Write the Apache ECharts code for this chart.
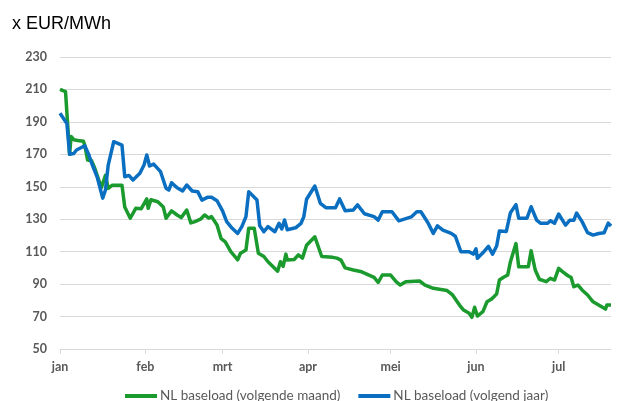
<!DOCTYPE html>
<html>
<head>
<meta charset="utf-8">
<script src="https://cdn.jsdelivr.net/npm/echarts@6/dist/echarts.min.js"></script>
<style>
html,body{margin:0;padding:0;background:#fff;}
#chart{width:617px;height:401px;}
</style>
</head>
<body>
<div id="chart"></div>
<script>
var unitTitle = 'x EUR/MWh';
var monthNames = ['jan', 'feb', 'mrt', 'apr', 'mei', 'jun', 'jul'];
var monthStartDays = [0, 31, 59, 90, 120, 151, 181];
var yTicks = [50, 70, 90, 110, 130, 150, 170, 190, 210, 230];
var seriesNames = ['NL baseload (volgende maand)', 'NL baseload (volgend jaar)'];

var maandDays = [0, 2, 3.5, 4, 5, 6.5, 8.5, 9, 10, 11.5, 12.5, 15, 16.5, 17.5, 19, 22.5, 23.5, 25.5, 27.5, 29.5,
  31.5, 32, 33, 35.5, 37.5, 38.5, 40.5, 42.5, 44, 46, 47.5, 49, 51, 52.5, 54, 55, 57, 58.5, 60, 62,
  64.5, 65.5, 67.5, 68.5, 70.5, 72, 74, 75.5, 79, 80, 81, 82, 82.5, 85, 86.5, 88, 89.5, 92.5, 95, 99,
  100.5, 102, 103.5, 106.5, 109.5, 114, 115.5, 117, 120, 122, 123.5, 125.5, 130.5, 132.5, 135.5, 140.5, 142.5, 145, 146.5, 148.5,
  149.5, 150.5, 151.5, 153.5, 155, 156.5, 157.5, 158.5, 159.5, 161, 162.5, 163.5, 165.5, 166.5, 170, 171, 172.5, 174, 176.5, 178,
  179.5, 181, 182.5, 184.5, 185.5, 186.5, 188, 189.5, 191.5, 193.5, 195.5, 198, 198.5, 200];
var maandValues = [210, 208.6, 170, 181, 179, 178.5, 178, 175.5, 166.5, 166, 162, 149.5, 157, 149, 151, 151, 137.5, 130.6, 136.7, 136.5,
  142.5, 136.7, 142, 140.8, 137.5, 130.6, 135.2, 132.6, 131, 135.7, 127.7, 128.5, 130, 132.6, 130.7, 131.6, 126.4, 118, 116, 110,
  105, 109, 111, 124.4, 124.4, 109, 107, 103.8, 98, 103.8, 101, 108.5, 104.8, 105.2, 108, 106, 114, 119.2, 107, 106.5,
  106, 104.8, 100, 98.7, 97.6, 94.2, 91, 95.6, 95.6, 91.5, 89.4, 91.5, 91.9, 89.4, 87.4, 86, 83.3, 77.1, 74, 72,
  69.5, 75.7, 70.3, 73, 79.1, 80.6, 82.2, 84, 92.5, 94.2, 95.6, 103.8, 115, 100.7, 100.7, 110.6, 98.7, 93, 91.5, 93.6,
  92.5, 99.7, 97.6, 95, 94.2, 88.4, 89.4, 86.4, 83.3, 79.1, 77.1, 74.6, 77.1, 77.1];

var jaarDays = [0, 2.5, 3.5, 5, 6, 9, 10.5, 11.5, 13.5, 15.5, 16.5, 17.5, 19.5, 22.5, 23.5, 25, 26.5, 29, 30.5, 31.5,
  32.5, 34, 36.5, 38.5, 39.5, 40.5, 42.5, 44.5, 46, 48, 50, 51.5, 53.5, 55, 57, 59, 60.5, 62.5, 64.5, 66,
  67.5, 68.5, 71.5, 72.5, 74, 75.5, 78, 79.5, 80.5, 81.5, 82.5, 85.5, 87.5, 88.5, 89.5, 92.5, 94.5, 96.5, 100, 101.5,
  103.5, 106.5, 108, 110.5, 114, 115.5, 117, 120.5, 123, 127.5, 129.5, 131, 133.5, 135.5, 137, 139, 142, 143.5, 145.5, 148.5,
  150, 151, 151.5, 153.5, 155.5, 157, 158.5, 159.5, 162, 163.5, 165.5, 166.5, 169.5, 171, 173, 174.5, 177, 178, 179.5, 181,
  183.5, 185, 186.5, 187.5, 189.5, 191.5, 193.5, 195.5, 197.5, 199, 200];
var jaarValues = [195.3, 189, 170, 170.5, 172.7, 175.3, 169.6, 164.5, 156, 143, 148, 163.4, 177.8, 175.7, 156.2, 157, 154.2, 158.3, 163.4, 169.6,
  162.8, 164, 159.3, 149.1, 148, 152.5, 149.4, 147.4, 151.1, 147.4, 147, 141.8, 143.5, 143.5, 141.4, 135.2, 128.5, 124.4, 121.3, 125.4,
  131.6, 147, 141.8, 126, 122.3, 125.4, 122.3, 127.5, 124, 129.5, 123.5, 124.7, 127.5, 131.6, 142.3, 150.5, 139.8, 137.1, 137.1, 142.5,
  135.2, 135.7, 138.8, 133.4, 131.6, 129.5, 134.6, 134.6, 129, 131.4, 134.6, 134.6, 128, 121.3, 125.9, 123.3, 121.3, 119.5, 110, 110,
  108.5, 111.7, 105.9, 109.3, 113.3, 108.5, 113.5, 122.8, 122.5, 134, 139, 130.6, 130.6, 137.7, 129.5, 127.5, 127.5, 129.1, 127.5, 133.2,
  126.4, 129.3, 129.3, 133.8, 128.5, 121.7, 120.2, 121.2, 121.7, 127.6, 125.8];

function zip(a, b) { return a.map(function (d, i) { return [d, b[i]]; }); }

var chart = echarts.init(document.getElementById('chart'), null, { renderer: 'canvas' });
var labelColor = '#595959';
var gridColor = '#d9d9d9';
var green = '#1b9a2e';
var blue = '#0a6fc0';

chart.setOption({
  animation: false,
  backgroundColor: '#ffffff',
  title: {
    text: unitTitle,
    left: 7,
    top: 10,
    textStyle: { fontFamily: 'Liberation Sans, Arial, sans-serif', fontSize: 18, fontWeight: 'normal', color: '#000000' }
  },
  grid: { left: 60, right: 6, top: 57, bottom: 52, containLabel: false },
  xAxis: {
    type: 'value',
    min: 0,
    max: 200,
    axisLine: { show: true, lineStyle: { color: gridColor, width: 1 } },
    axisTick: { show: true, customValues: monthStartDays, length: 5, lineStyle: { color: gridColor } },
    axisLabel: {
      customValues: monthStartDays,
      formatter: function (v) { var i = monthStartDays.indexOf(Math.round(v)); return i >= 0 ? monthNames[i] : ''; },
      color: labelColor,
      fontFamily: 'Lato, sans-serif',
      fontWeight: 'bold',
      fontSize: 12.5,
      margin: 11
    },
    splitLine: { show: false }
  },
  yAxis: {
    type: 'value',
    min: yTicks[0],
    max: yTicks[yTicks.length - 1],
    interval: 20,
    axisLine: { show: false },
    axisTick: { show: false },
    axisLabel: { color: labelColor, fontFamily: 'Lato, sans-serif', fontWeight: 'bold', fontSize: 12.5, margin: 13 },
    splitLine: { show: true, lineStyle: { color: gridColor, width: 1 } }
  },
  legend: {
    left: 120,
    top: 384,
    itemGap: 18,
    itemWidth: 32,
    itemHeight: 4,
    icon: 'rect',
    textStyle: { color: labelColor, fontFamily: 'Lato, sans-serif', fontSize: 13.5, padding: [0, 0, 0, -2] },
    data: seriesNames
  },
  series: [
    {
      name: seriesNames[0],
      type: 'line',
      data: zip(maandDays, maandValues),
      showSymbol: false,
      symbol: 'none',
      lineStyle: { color: green, width: 3.5, join: 'round' },
      itemStyle: { color: green },
      z: 2
    },
    {
      name: seriesNames[1],
      type: 'line',
      data: zip(jaarDays, jaarValues),
      showSymbol: false,
      symbol: 'none',
      lineStyle: { color: blue, width: 3.5, join: 'round' },
      itemStyle: { color: blue },
      z: 3
    }
  ]
});
</script>
</body>
</html>
